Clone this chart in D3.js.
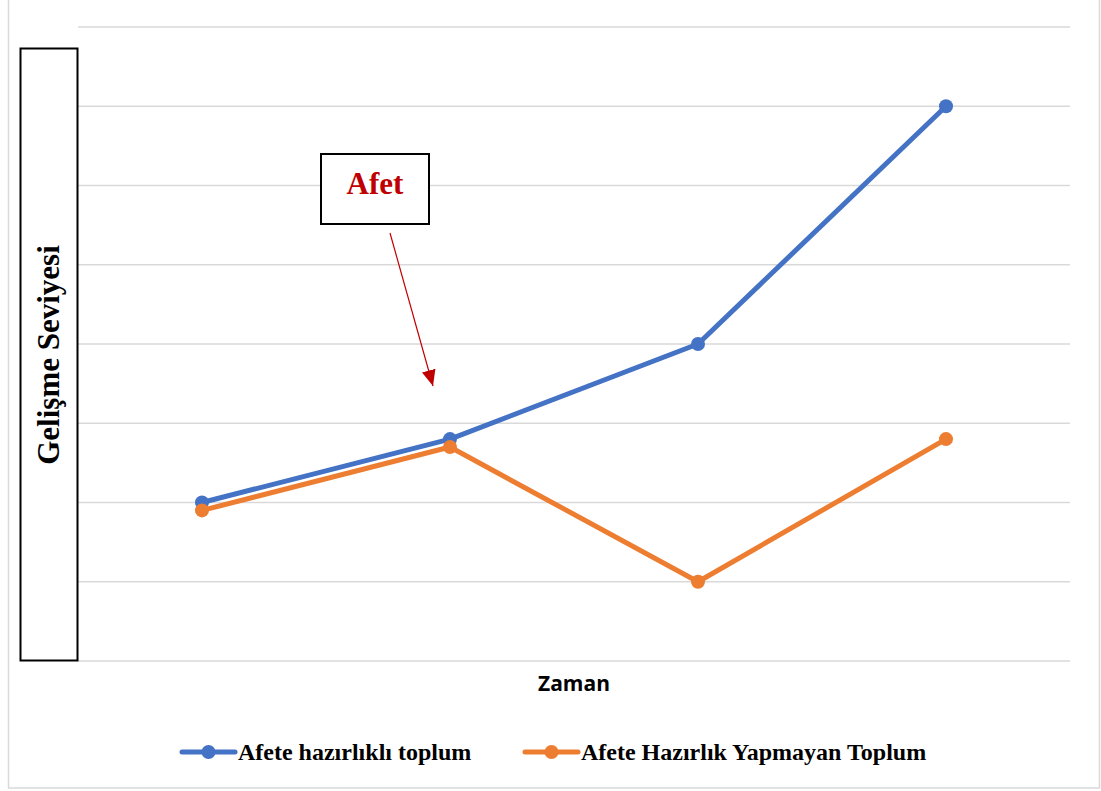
<!DOCTYPE html>
<html>
<head>
<meta charset="utf-8">
<script src="https://cdn.jsdelivr.net/npm/d3@7"></script>
<style>
  body { margin: 0; background: #fff; }
  svg { display: block; }
</style>
</head>
<body>
<svg id="chart" width="1101" height="791"></svg>
<script>
// data
const periods = ["T1", "T2", "T3", "T4"];
const prepared = [2.0, 2.8, 4.0, 7.0];
const unprepared = [1.9, 2.7, 1.0, 2.8];
const yTicks = [0, 1, 2, 3, 4, 5, 6, 7, 8];
const seriesNames = ["Afete hazırlıklı toplum", "Afete Hazırlık Yapmayan Toplum"];
const colors = ["#4472C4", "#ED7D31"];

const svg = d3.select("#chart");

// outer frame
svg.append("rect")
  .attr("x", 8.5).attr("y", -2)
  .attr("width", 1091).attr("height", 790)
  .attr("fill", "none")
  .attr("stroke", "#d9d9d9")
  .attr("stroke-width", 1.5);

const x = d3.scalePoint().domain(periods).range([78, 1070]).padding(0.5);
const y = d3.scaleLinear().domain([0, 8]).range([661, 27]);

// gridlines
svg.append("g")
  .selectAll("line")
  .data(yTicks)
  .join("line")
    .attr("x1", 78).attr("x2", 1070)
    .attr("y1", d => y(d)).attr("y2", d => y(d))
    .attr("stroke", "#d9d9d9")
    .attr("stroke-width", 1.5);

// y title box
svg.append("rect")
  .attr("x", 20.5).attr("y", 48.5)
  .attr("width", 57).attr("height", 612)
  .attr("fill", "#fff")
  .attr("stroke", "#000")
  .attr("stroke-width", 2);

svg.append("text")
  .attr("transform", `translate(59, 355) rotate(-90)`)
  .attr("text-anchor", "middle")
  .style("font", "bold 31px 'Liberation Serif', 'Times New Roman', serif")
  .attr("fill", "#000")
  .text("Gelişme Seviyesi");

// x title
svg.append("text")
  .attr("x", 574).attr("y", 691)
  .attr("text-anchor", "middle")
  .style("font", "bold 21px 'Open Sans', 'Liberation Sans', sans-serif")
  .attr("fill", "#000")
  .text("Zaman");

// lines
const line = d3.line()
  .x((d, i) => x(periods[i]))
  .y(d => y(d));

[prepared, unprepared].forEach((vals, k) => {
  const g = svg.append("g");
  g.append("path")
    .datum(vals)
    .attr("d", line)
    .attr("fill", "none")
    .attr("stroke", colors[k])
    .attr("stroke-width", 5)
    .attr("stroke-linejoin", "round");
  g.selectAll("circle")
    .data(vals)
    .join("circle")
      .attr("cx", (d, i) => x(periods[i]))
      .attr("cy", d => y(d))
      .attr("r", 7)
      .attr("fill", colors[k]);
});

// annotation box
svg.append("rect")
  .attr("x", 321).attr("y", 154)
  .attr("width", 108).attr("height", 70)
  .attr("fill", "#fff")
  .attr("stroke", "#000")
  .attr("stroke-width", 2);

svg.append("text")
  .attr("x", 375).attr("y", 194)
  .attr("text-anchor", "middle")
  .style("font", "bold 31px 'Liberation Serif', 'Times New Roman', serif")
  .attr("fill", "#C00000")
  .text("Afet");

svg.append("defs").append("marker")
  .attr("id", "arrow")
  .attr("viewBox", "0 0 10 10")
  .attr("refX", 10).attr("refY", 5)
  .attr("markerWidth", 16).attr("markerHeight", 14)
  .attr("markerUnits", "userSpaceOnUse")
  .attr("orient", "auto")
  .attr("preserveAspectRatio", "none")
  .append("path")
    .attr("d", "M0,0 L10,5 L0,10 Z")
    .attr("fill", "#C00000");

svg.append("line")
  .attr("x1", 390).attr("y1", 233)
  .attr("x2", 433).attr("y2", 386)
  .attr("stroke", "#C00000")
  .attr("stroke-width", 1.2)
  .attr("marker-end", "url(#arrow)");

// legend
const legendX = [182, 525];
seriesNames.forEach((name, k) => {
  const g = svg.append("g").attr("transform", `translate(${legendX[k]}, 752)`);
  g.append("line")
    .attr("x1", 0).attr("x2", 53)
    .attr("stroke", colors[k])
    .attr("stroke-width", 5)
    .attr("stroke-linecap", "round");
  g.append("circle")
    .attr("cx", 26.5).attr("r", 7)
    .attr("fill", colors[k]);
  g.append("text")
    .attr("x", 56).attr("y", 8)
    .style("font", "bold 24px 'Liberation Serif', 'Times New Roman', serif")
    .attr("fill", "#000")
    .text(name);
});
</script>
</body>
</html>
